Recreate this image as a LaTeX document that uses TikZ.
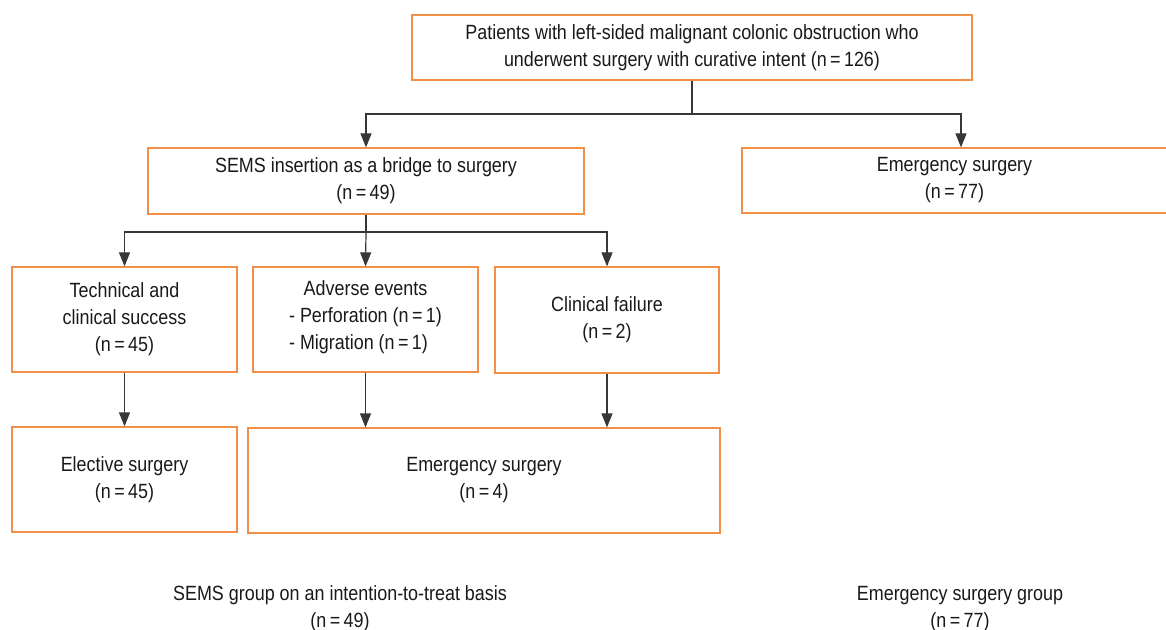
\documentclass[tikz,border=0pt]{standalone}
\usepackage{fontspec}
\setmainfont{Liberation Sans}[FakeStretch=0.87]
\usepackage{xcolor}
\usetikzlibrary{arrows.meta}
\definecolor{boxorange}{RGB}{241,142,72}
\definecolor{linegray}{RGB}{55,55,55}
\tikzset{
    flow-box/.style = {draw=boxorange, line width=0.6pt, rectangle, inner sep=0pt, align=center, text=black!90, font=\fontsize{10.3}{13.5}\selectfont},
    flow-line/.style = {draw=linegray, line width=0.6pt},
    flow-arrow/.style = {flow-line, -{Triangle[length=7pt,width=5.5pt]}},
    group-label/.style = {align=center, inner sep=0pt, text=black!90, font=\fontsize{10.3}{13.5}\selectfont},
}

\begin{document}
\begin{tikzpicture}[x=0.5pt, y=-0.5pt]
\useasboundingbox (0,0) rectangle (1166,630);

% top row
\node [flow-box, minimum width=280pt, minimum height=32.5pt] (patients) at (692,47.5)
    {Patients with left-sided malignant colonic obstruction who\\underwent surgery with curative intent (n\,=\,126)};

% second row
\node [flow-box, minimum width=218pt, minimum height=33pt] (sems) at (366,181)
    {SEMS insertion as a bridge to surgery\\(n\,=\,49)};
\node [flow-box, minimum width=212.5pt, minimum height=32.5pt] (emergency) at (954.5,180.5)
    {Emergency surgery\\(n\,=\,77)};

% outcome row
\node [flow-box, minimum width=112.5pt, minimum height=52.5pt] (success) at (124.5,319.5)
    {Technical and\\clinical success\\(n\,=\,45)};
\node [flow-box, minimum width=112.5pt, minimum height=52.5pt] (adverse) at (365.5,319.5)
    {Adverse events\\\begin{tabular}[t]{@{}l@{}}- Perforation (n\,=\,1)\\- Migration (n\,=\,1)\end{tabular}};
\node [flow-box, minimum width=112pt, minimum height=53pt] (failure) at (607,320)
    {Clinical failure\\(n\,=\,2)};

% surgery row
\node [flow-box, minimum width=112.5pt, minimum height=52.5pt] (elective) at (124.5,479.5)
    {Elective surgery\\(n\,=\,45)};
\node [flow-box, minimum width=236pt, minimum height=52.5pt] (emergency-sems) at (484,480.5)
    {Emergency surgery\\(n\,=\,4)};

% group labels
\node [group-label] (sems-group) at (340,609) {SEMS group on an intention-to-treat basis\\(n\,=\,49)};
\node [group-label] (emergency-group) at (960,609) {Emergency surgery group\\(n\,=\,77)};

% connectors
\coordinate (split-top) at (692,114);
\coordinate (split-sems) at (366,232);
\draw [flow-line] (patients.south) -- (split-top);
\draw [flow-arrow] (split-top) -| (sems.north);
\draw [flow-arrow] (split-top) -| ([xshift=3.25pt]emergency.north);
\draw [flow-line] (sems.south) -- (split-sems);
\draw [flow-arrow] (split-sems) -| (success.north);
\draw [flow-arrow] (split-sems) -- (adverse.north);
\draw [flow-arrow] (split-sems) -| (failure.north);
\draw [flow-arrow] (success.south) -- (elective.north);
\draw [flow-arrow] (adverse.south) -- (adverse.south |- emergency-sems.north);
\draw [flow-arrow] (failure.south) -- (failure.south |- emergency-sems.north);
\end{tikzpicture}
\end{document}
